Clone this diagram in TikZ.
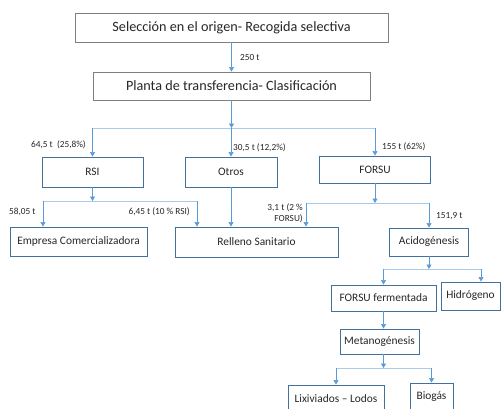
\documentclass[tikz,border=0pt]{standalone}
\usepackage{fontspec}
\setmainfont{Carlito}
\usetikzlibrary{arrows.meta}
\definecolor{azulcaja}{HTML}{41719C}
\definecolor{azullinea}{HTML}{5B9BD5}
\definecolor{azulclaro}{HTML}{A9CBEB}
\definecolor{griscaja}{HTML}{7F7F7F}
\definecolor{texto}{HTML}{262626}

\begin{document}
\begin{tikzpicture}[x=1pt,y=-1pt,
    caja/.style={draw=azulcaja,line width=0.9pt,inner sep=0pt,text=texto,
        font=\fontsize{11.4}{13}\selectfont},
    cajagris/.style={caja,draw=griscaja,font=\fontsize{14.2}{16}\selectfont},
    flecha/.style={draw=azullinea,line width=0.6pt,-{Triangle[length=4.5pt,width=5pt]}},
    rama/.style={draw=azulclaro,line width=0.6pt},
    etiq/.style={font=\fontsize{9.3}{11}\selectfont,inner sep=0pt,text=texto}]
    \useasboundingbox (0,0) rectangle (501,408);

    % arriba: origen y planta
    \node[cajagris,minimum width=313pt,minimum height=29pt] (orig) at (231.5,27.5)
        {Selección en el origen- Recogida selectiva};
    \node[cajagris,minimum width=277pt,minimum height=28pt] (planta) at (231.5,86)
        {Planta de transferencia- Clasificación};
    \draw[flecha] (orig.south) -- (planta.north);
    \node[etiq,anchor=west] (l250) at (240,58) {250 t};

    % segundo nivel
    \node[caja,minimum width=101pt,minimum height=30pt] (rsi) at (92.5,172) {RSI};
    \node[caja,minimum width=92pt,minimum height=30pt] (otros) at (231,172) {Otros};
    \node[caja,minimum width=111pt,minimum height=27pt] (forsu) at (375,169.5) {FORSU};
    \coordinate (j1) at (231,128);
    \draw[flecha] (planta.south) -- (planta.south |- j1);
    \draw[rama] (rsi.north |- j1) -- (forsu.north |- j1);
    \draw[flecha] (rsi.north |- j1) -- (rsi.north);
    \draw[flecha] (otros.north |- j1) -- (otros.north);
    \draw[flecha] (forsu.north |- j1) -- (forsu.north);
    \node[etiq,anchor=east] (l645) at (86,145) {64,5 t\ \ (25,8\%)};
    \node[etiq,anchor=west] (l305) at (233,148) {30,5 t (12,2\%)};
    \node[etiq,anchor=west] (l155) at (382,147) {155 t (62\%)};

    % tercer nivel
    \node[caja,minimum width=137pt,minimum height=29pt] (empresa) at (78.5,241.5)
        {Empresa Comercializadora};
    \node[caja,minimum width=163pt,minimum height=30pt] (relleno) at (256.5,242)
        {Relleno Sanitario};
    \node[caja,minimum width=79pt,minimum height=28pt] (acido) at (429,242) {Acidogénesis};

    % RSI
    \coordinate (j2a) at (43,201);
    \coordinate (j2b) at (197,201);
    \draw[flecha] (rsi.south) -- (rsi.south |- j2a);
    \draw[rama] (j2a) -- (j2b);
    \draw[flecha] (j2a) -- (j2a |- empresa.north);
    \draw[flecha] (j2b) -- (j2b |- relleno.north);
    \node[etiq,anchor=west] (l5805) at (9,212) {58,05 t};
    \node[etiq,anchor=east] (l645b) at (190,212) {6,45 t (10 \% RSI)};

    % Otros
    \draw[flecha] (otros.south) -- (otros.south |- relleno.north);

    % FORSU
    \coordinate (j3a) at (306,203);
    \coordinate (j3b) at (429,203);
    \draw[flecha] (forsu.south) -- (forsu.south |- j3a);
    \draw[rama] (j3a) -- (j3b);
    \draw[flecha] (j3a) -- (j3a |- relleno.north);
    \draw[flecha] (j3b) -- (acido.north);
    \node[etiq,anchor=east,align=right] (l31) at (303,213.5) {3,1 t (2 \%\\FORSU)};
    \node[etiq,anchor=west] (l1519) at (436,216) {151,9 t};

    % abajo: fermentacion
    \node[caja,minimum width=105pt,minimum height=26pt] (ferm) at (383.5,298) {FORSU fermentada};
    \node[caja,minimum width=59pt,minimum height=28pt] (hidro) at (470.5,296) {Hidrógeno};
    \node[caja,minimum width=79pt,minimum height=25pt] (meta) at (379.5,341.5) {Metanogénesis};
    \node[caja,minimum width=96pt,minimum height=28pt] (lixi) at (336,399) {Lixiviados -- Lodos};
    \node[caja,minimum width=43pt,minimum height=28pt] (biogas) at (431.5,397) {Biogás};
    \coordinate (j4a) at (383.5,269);
    \coordinate (j4b) at (481,269);
    \draw[flecha] (acido.south) -- (acido.south |- j4a);
    \draw[rama] (j4a) -- (j4b);
    \draw[flecha] (j4a) -- (ferm.north);
    \draw[flecha] (j4b) -- (j4b |- hidro.north);
    \draw[flecha] (ferm.south) -- (ferm.south |- meta.north);
    \coordinate (j5a) at (336,368);
    \coordinate (j5b) at (431.5,368);
    \draw[flecha] (meta.south -| ferm.south) -- (j4a |- j5a);
    \draw[rama] (j5a) -- (j5b);
    \draw[flecha] (j5a) -- (lixi.north);
    \draw[flecha] (j5b) -- (biogas.north);
\end{tikzpicture}
\end{document}
